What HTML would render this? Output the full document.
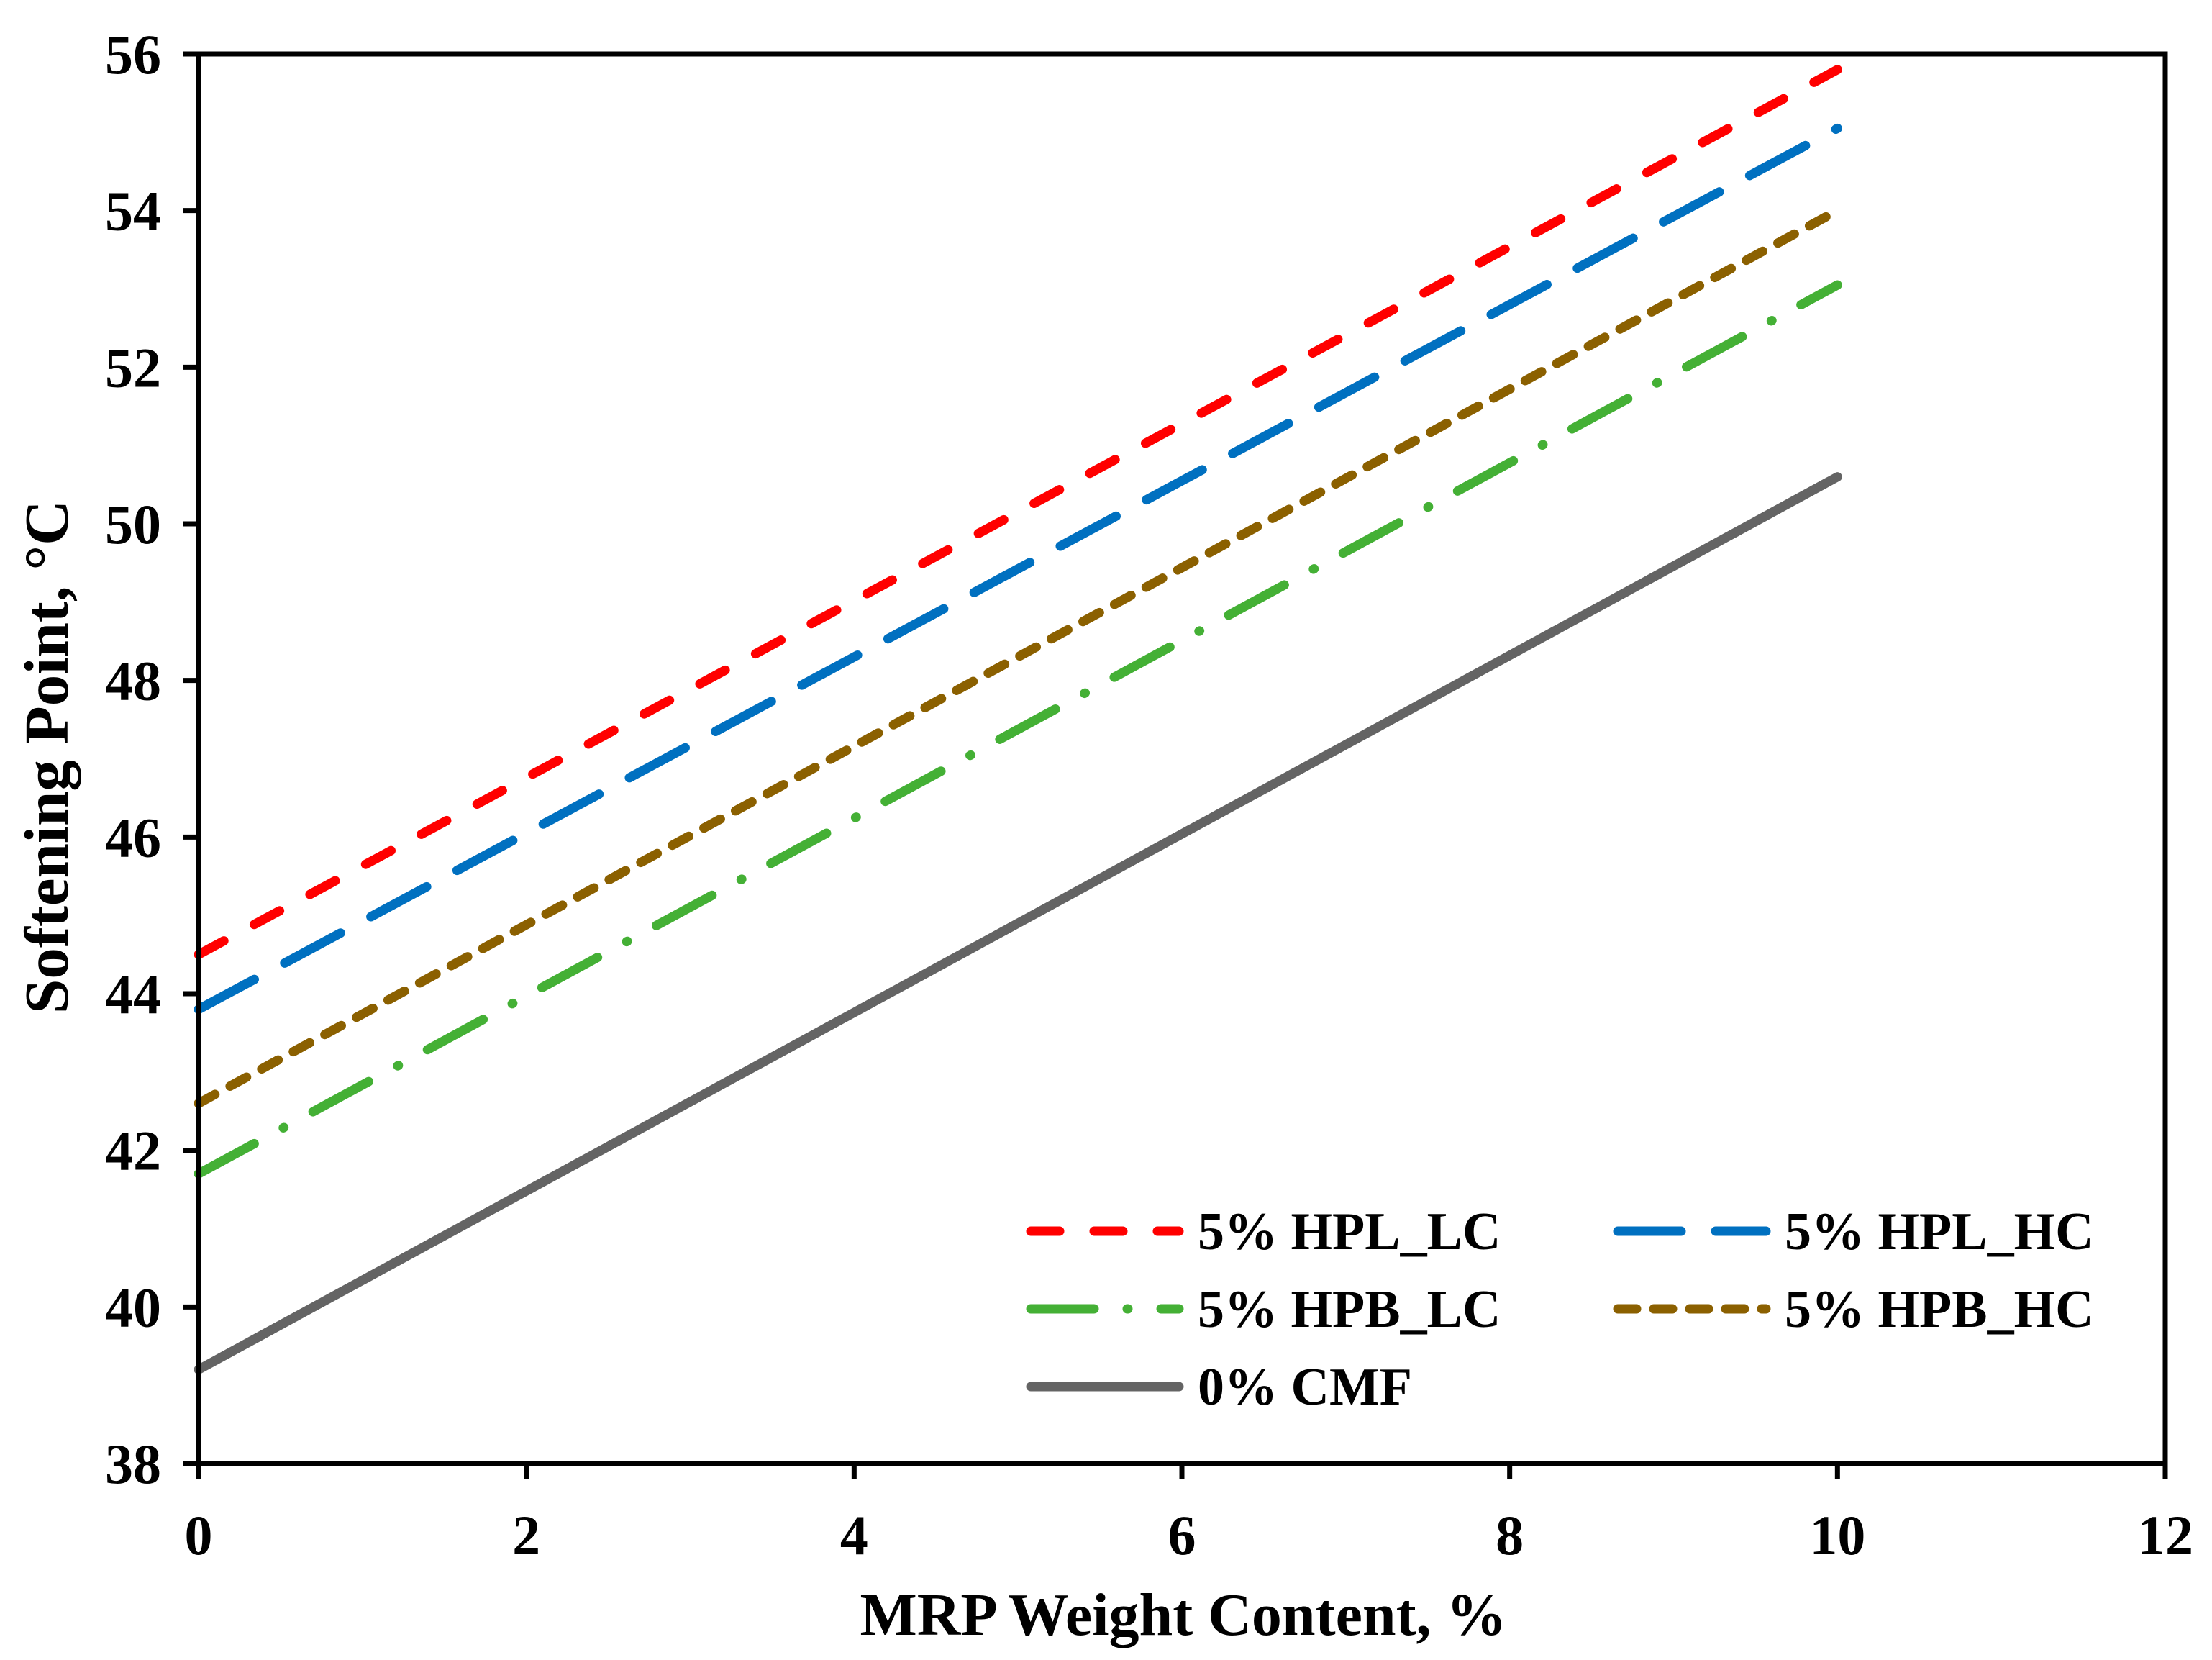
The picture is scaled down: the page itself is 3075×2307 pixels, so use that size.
<!DOCTYPE html>
<html><head><meta charset="utf-8"><style>
html,body{margin:0;padding:0;background:#fff;}
svg{display:block;font-family:"Liberation Serif",serif;font-weight:bold;}
</style></head><body>
<svg id="chart" width="3075" height="2307" viewBox="0 0 3075 2307" xmlns="http://www.w3.org/2000/svg">
<rect width="3075" height="2307" fill="#fff"/>
<g id="series"></g>
<g id="axes"></g>
<g id="legend"></g>
<text x="1645" y="2272" text-anchor="middle" font-size="84">MRP Weight Content, %</text>
<text transform="translate(94,1052) rotate(-90)" text-anchor="middle" font-size="87">Softening Point, °C</text>
</svg>
<script>
const xTicks = [0, 2, 4, 6, 8, 10, 12];
const yTicks = [38, 40, 42, 44, 46, 48, 50, 52, 54, 56];
const xValues = [0, 10];
const seriesNames = ["5% HPL_LC", "5% HPL_HC", "5% HPB_LC", "5% HPB_HC", "0% CMF"];
const hplLC = [44.5, 55.8];
const hplHC = [43.8, 55.05];
const hpbLC = [41.7, 53.05];
const hpbHC = [42.6, 54.0];
const cmf = [39.2, 50.6];

const NS = "http://www.w3.org/2000/svg";
const L = 276, R = 3010, T = 75, B = 2034;
const xMin = 0, xMax = 12, yMin = 38, yMax = 56;
function sx(v){ return L + (v - xMin) / (xMax - xMin) * (R - L); }
function sy(v){ return B - (v - yMin) / (yMax - yMin) * (B - T); }
function mk(tag, attrs, parent){
  const e = document.createElementNS(NS, tag);
  for (const k in attrs) e.setAttribute(k, attrs[k]);
  parent.appendChild(e);
  return e;
}
const styles = [
  {color:"#ff0000", dash:"40 48"},
  {color:"#0070c0", dash:"88 48"},
  {color:"#44b035", dash:"88 46 1 46"},
  {color:"#8b6000", dash:"26 24"},
  {color:"#646464", dash:""}
];
const seriesData = [hplLC, hplHC, hpbLC, hpbHC, cmf];
const sg = document.getElementById("series");
seriesData.forEach((vals, i) => {
  const pts = vals.map((v, j) => sx(xValues[j]) + "," + sy(v)).join(" ");
  const p = mk("polyline", {points: pts, fill: "none", stroke: styles[i].color, "stroke-width": 13, "stroke-linecap": "round"}, sg);
  if (styles[i].dash) p.setAttribute("stroke-dasharray", styles[i].dash);
  
  
});

const ag = document.getElementById("axes");
const frame = mk("rect", {x: L, y: T, width: R - L, height: B - T, fill: "none", stroke: "#000", "stroke-width": 7}, ag);


yTicks.forEach(v => {
  const y = sy(v);
  const t = mk("line", {x1: L - 22, x2: L, y1: y, y2: y, stroke: "#000", "stroke-width": 7}, ag);
  
  
  const lb = mk("text", {x: L - 52, y: y + 27, "text-anchor": "end", "font-size": 78}, ag);
  lb.textContent = v;
  
  
});
xTicks.forEach(v => {
  const x = sx(v);
  const t = mk("line", {x1: x, x2: x, y1: B, y2: B + 22, stroke: "#000", "stroke-width": 7}, ag);
  
  
  const lb = mk("text", {x: x, y: 2160, "text-anchor": "middle", "font-size": 78}, ag);
  lb.textContent = v;
  
  
});

const lg = document.getElementById("legend");
const legPos = [[1427,1711],[2243,1711],[1427,1819],[2243,1819],[1427,1927]];
seriesNames.forEach((name, i) => {
  const [x, y] = legPos[i];
  const ln = mk("line", {x1: x + 6, x2: x + 212, y1: y, y2: y, stroke: styles[i].color, "stroke-width": 13, "stroke-linecap": "round"}, lg);
  if (styles[i].dash) ln.setAttribute("stroke-dasharray", styles[i].dash);
  
  
  const tx = mk("text", {x: x + 238, y: y + 25, "font-size": 74}, lg);
  tx.textContent = name;
  
  
});
</script>
</body></html>
